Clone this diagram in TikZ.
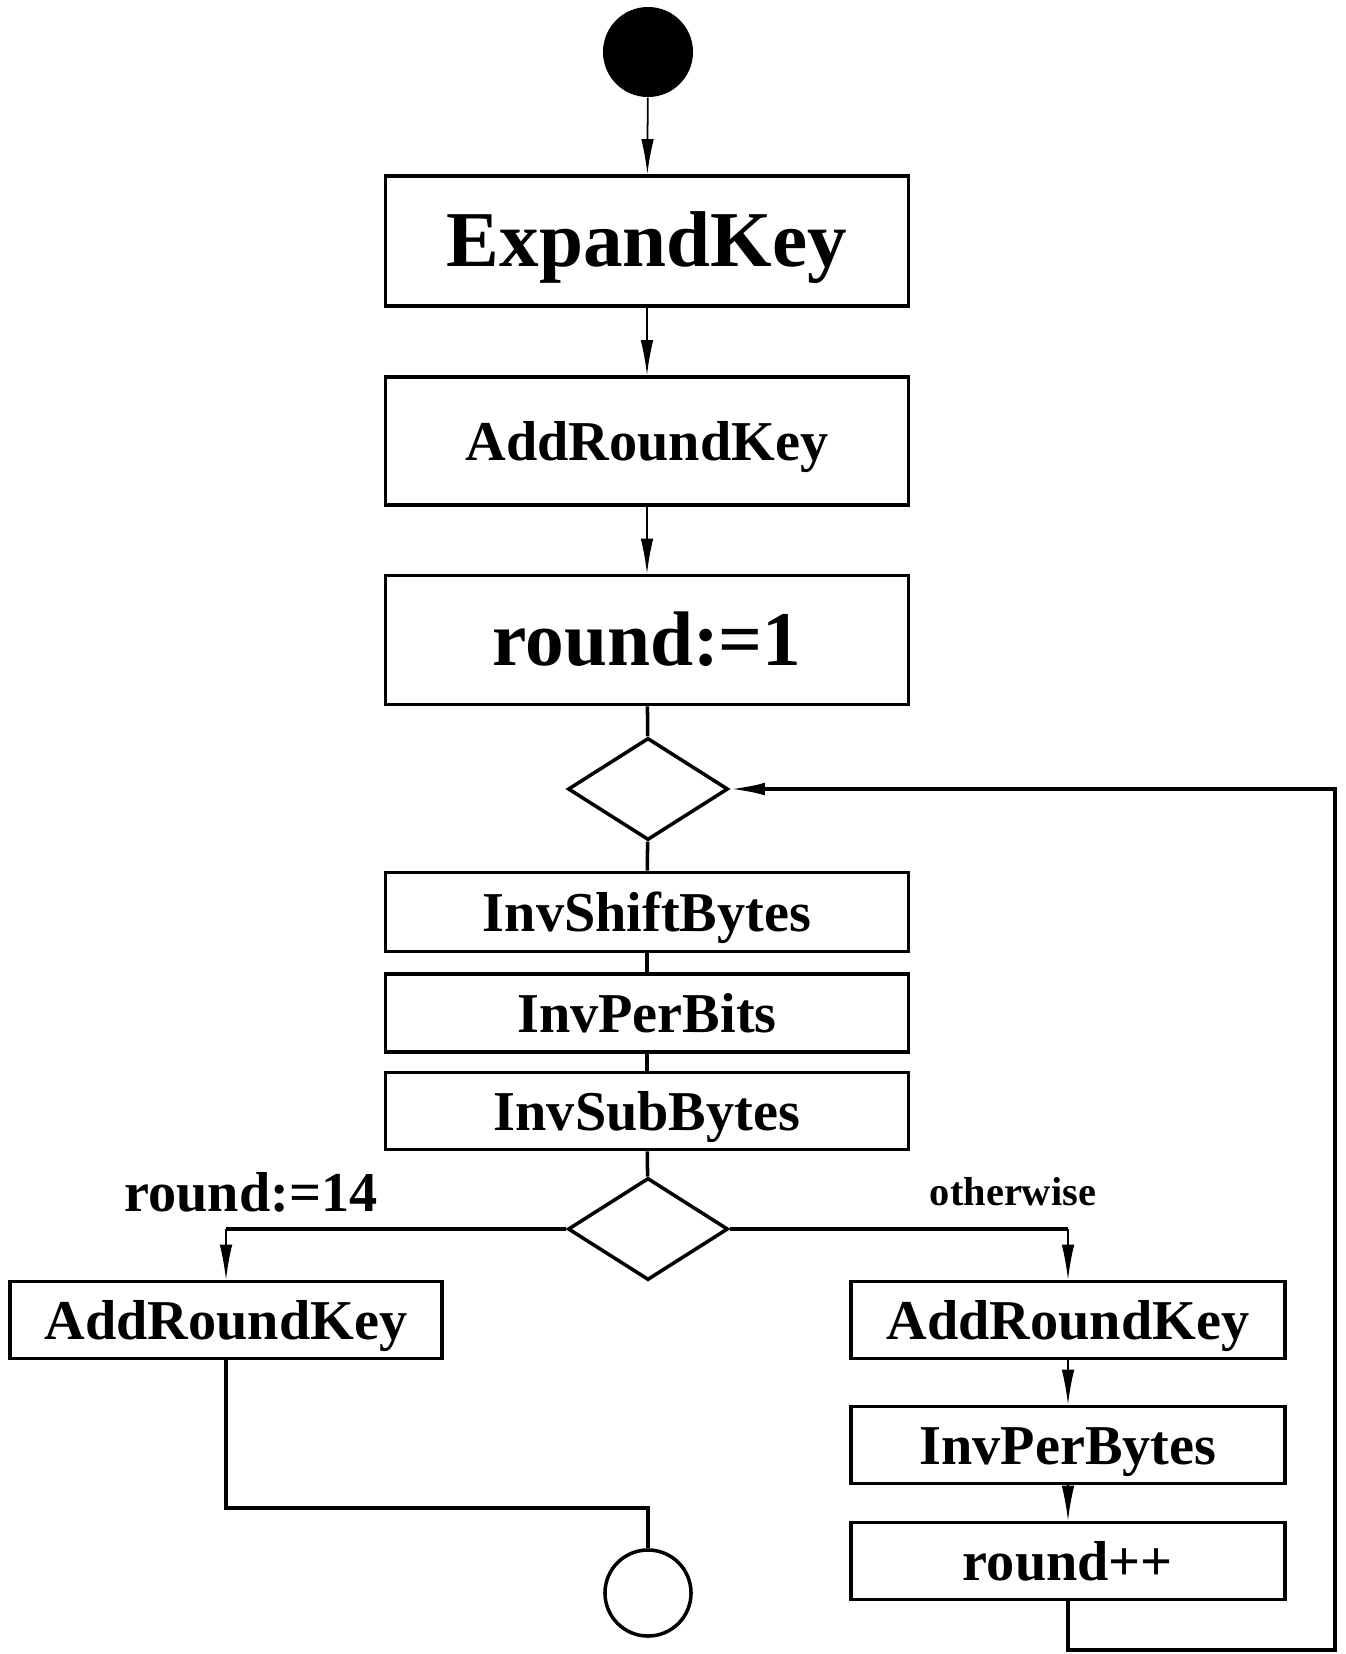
\documentclass[tikz,border=0pt]{standalone}
\usepackage{fontspec}
\setmainfont{Liberation Serif}
\usepackage{tikz}
\usetikzlibrary{shapes.geometric,arrows.meta,positioning}
\tikzset{>={Latex[length=10pt,width=3.6pt]}}

\begin{document}
\begin{tikzpicture}[x=0.01cm, y=-0.01cm,
                    box/.style={draw, line width=1pt, inner sep=0pt, text height=14.5pt, text depth=3.5pt,
                                font=\bfseries\fontsize{16}{16}\selectfont},
                    bigtext/.style={text height=19.7pt, text depth=5pt, font=\bfseries\fontsize{22.5}{22.5}\selectfont},
                    widebox/.style={box, minimum width=5.23cm},
                    sidebox/.style={box, minimum width=4.32cm, minimum height=0.77cm},
                    decision/.style={draw, diamond, line width=1pt, inner sep=0pt, minimum width=1.6cm, minimum height=1.02cm},
                    flow/.style={line width=0.5pt, ->},
                    wire/.style={line width=1pt},
                    guard/.style={font=\bfseries\fontsize{16}{16}\selectfont},
                   ]

\useasboundingbox (0,0) rectangle (1345,1654);

\node[circle, fill=black, minimum size=0.9cm, inner sep=0pt] (start) at (648,52) {};

\node[widebox, bigtext, minimum height=1.3cm] (expand) at (647,241) {ExpandKey};
\node[widebox, minimum height=1.28cm] (addkey) at (647,441) {AddRoundKey};
\node[widebox, bigtext, minimum height=1.29cm, font=\bfseries\fontsize{22}{22}\selectfont] (init) at (647,640) {round:=1};

\node[decision] (test) at (648,789) {};

\node[widebox, minimum height=0.79cm] (shift) at (647,912) {InvShiftBytes};
\node[widebox, minimum height=0.78cm] (perbits) at (647,1013) {InvPerBits};
\node[widebox, minimum height=0.77cm] (subbytes) at (647,1111) {InvSubBytes};

\node[decision] (last) at (648,1229) {};

\node[guard] (done) at (251,1192) {round:=14};
\node[guard, font=\bfseries\fontsize{11.5}{11.5}\selectfont] (other) at (1013,1192) {otherwise};

\node[sidebox] (finalkey) at (226,1320) {AddRoundKey};
\node[sidebox, minimum width=4.34cm] (roundkey) at (1068,1320) {AddRoundKey};
\node[sidebox, minimum width=4.34cm] (perbytes) at (1068,1445) {InvPerBytes};
\node[sidebox, minimum width=4.34cm] (next) at (1068,1561) {round++};

\node[circle, draw, line width=1pt, minimum size=0.86cm, inner sep=0pt] (stop) at (648,1593) {};

\coordinate (join) at (648,1508);
\coordinate (back) at (1335,1650);

% main column
\draw[flow] (start) -- (expand);
\draw[flow] (expand) -- (addkey);
\draw[flow] (addkey) -- (init);
\draw[wire] (init) -- (test);
\draw[wire] (test) -- (shift);
\draw[wire] (shift) -- (perbits);
\draw[wire] (perbits) -- (subbytes);
\draw[wire] (subbytes) -- (last);

% branches
\draw[wire] (last.west) -- (last.west -| finalkey.north);
\draw[flow] (last.west -| finalkey.north) -- (finalkey.north);
\draw[wire] (last.east) -- (last.east -| roundkey.north);
\draw[flow] (last.east -| roundkey.north) -- (roundkey.north);
\draw[flow] (roundkey) -- (perbytes);
\draw[flow] (perbytes) -- (next);

\draw[wire] (finalkey.south) |- (join) -- (stop.north);
\draw[wire, ->] (next.south) |- (back) |- (test.east);

\end{tikzpicture}
\end{document}
